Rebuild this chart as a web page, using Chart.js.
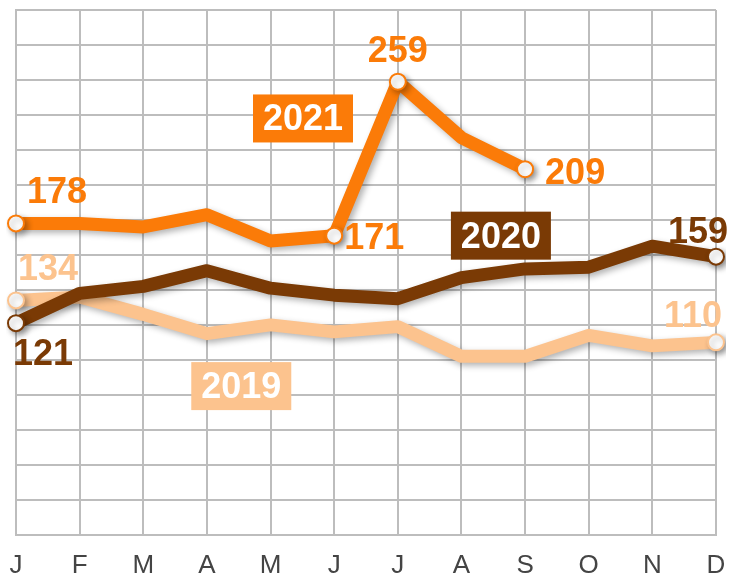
<!DOCTYPE html>
<html>
<head>
<meta charset="utf-8">
<script src="https://cdn.jsdelivr.net/npm/chart.js@4"></script>
<style>
  html, body { margin: 0; padding: 0; background: #fff; }
  #wrap { width: 730px; height: 578px; }
</style>
</head>
<body>
<div id="wrap"><canvas id="chart"></canvas></div>
<script>
const months = ['J', 'F', 'M', 'A', 'M', 'J', 'J', 'A', 'S', 'O', 'N', 'D'];
const sales2019 = [134, 136, 126, 115, 120, 116, 119, 102, 102, 114, 108, 110];
const sales2020 = [121, 138, 142, 151, 141, 137, 135, 147, 152, 153, 165, 159];
const sales2021 = [178, 178, 176, 183, 168, 171, 259, 227, 209, null, null, null];

// which points get a marker + value label
const marked2019 = [0, 11];
const marked2020 = [0, 11];
const marked2021 = [0, 5, 6, 8];

const colors = {
    y2019: '#fcc38e',
    y2020: '#7a3a05',
    y2021: '#fb7b08'
};

function radii(marked) {
    return months.map((_, i) => marked.includes(i) ? 8 : 0);
}

// value labels: [datasetIndex, pointIndex, dx, baseline dy, align]
const valueLabels = [
    [0, 0, 11, -20, 'left'],
    [0, 5, 10, 13, 'left'],
    [0, 6, 0, -20, 'center'],
    [0, 8, 20, 15, 'left'],
    [1, 0, -3, 42, 'left'],
    [1, 11, 12, -14, 'right'],
    [2, 0, 2, -20, 'left'],
    [2, 11, 6, -15, 'right']
];

// series name boxes, anchored in data space: [text, xIndex, yValue, color]
const nameBoxes = [
    ['2021', 4.51, 238, colors.y2021],
    ['2020', 7.62, 171, colors.y2020],
    ['2019', 3.54, 85, colors.y2019]
];

const shadowPlugin = {
    id: 'lineShadow',
    beforeDatasetDraw(chart) {
        const ctx = chart.ctx;
        ctx.save();
        ctx.shadowColor = 'rgba(0,0,0,0.3)';
        ctx.shadowBlur = 6;
        ctx.shadowOffsetX = 3;
        ctx.shadowOffsetY = 3;
    },
    afterDatasetDraw(chart) {
        chart.ctx.restore();
    }
};

const labelPlugin = {
    id: 'seriesLabels',
    afterDatasetsDraw(chart) {
        const ctx = chart.ctx;
        const xs = chart.scales.x;
        const ys = chart.scales.y;
        ctx.save();
        ctx.font = 'bold 36px "Liberation Sans", Arial, sans-serif';
        ctx.textBaseline = 'alphabetic';

        valueLabels.forEach(([ds, idx, dx, dy, align]) => {
            const point = chart.getDatasetMeta(ds).data[idx];
            const dataset = chart.data.datasets[ds];
            ctx.fillStyle = dataset.borderColor;
            ctx.textAlign = align;
            ctx.fillText(String(dataset.data[idx]), point.x + dx, point.y + dy);
        });

        nameBoxes.forEach(([text, xi, yv, color]) => {
            const cx = xs.getPixelForValue(xi);
            const cy = ys.getPixelForValue(yv);
            const w = 100, h = 48;
            ctx.fillStyle = color;
            ctx.fillRect(cx - w / 2, cy - h / 2, w, h);
            ctx.fillStyle = '#ffffff';
            ctx.textAlign = 'center';
            ctx.textBaseline = 'middle';
            ctx.fillText(text, cx, cy + 2);
            ctx.textBaseline = 'alphabetic';
        });
        ctx.restore();
    }
};

function lineSet(label, data, color, marked) {
    return {
        label: label,
        data: data,
        borderColor: color,
        borderWidth: 13,
        borderJoinStyle: 'round',
        borderCapStyle: 'round',
        tension: 0,
        pointRadius: radii(marked),
        pointHoverRadius: radii(marked),
        pointBackgroundColor: '#ffffff',
        pointBorderColor: color,
        pointBorderWidth: 2,
        spanGaps: false
    };
}

new Chart(document.getElementById('chart'), {
    type: 'line',
    data: {
        labels: months,
        datasets: [
            lineSet('2021', sales2021, colors.y2021, marked2021),
            lineSet('2020', sales2020, colors.y2020, marked2020),
            lineSet('2019', sales2019, colors.y2019, marked2019)
        ]
    },
    options: {
        responsive: true,
        maintainAspectRatio: false,
        animation: false,
        layout: { padding: { left: 16, right: 14, top: 7, bottom: -3 } },
        plugins: {
            legend: { display: false },
            tooltip: { enabled: false }
        },
        scales: {
            x: {
                offset: false,
                grid: { color: '#bdbdbd', lineWidth: 2, drawTicks: true, tickLength: 15, tickColor: 'rgba(0,0,0,0)' },
                border: { color: '#bdbdbd', width: 2 },
                ticks: {
                    color: '#444',
                    padding: 0,
                    font: { family: '"Liberation Sans", Arial, sans-serif', size: 26 }
                }
            },
            y: {
                min: 0,
                max: 300,
                grid: { color: '#bdbdbd', lineWidth: 2, drawTicks: false },
                border: { color: '#bdbdbd', width: 2 },
                ticks: { display: false, stepSize: 20 }
            }
        }
    },
    plugins: [shadowPlugin, labelPlugin]
});
</script>
</body>
</html>
